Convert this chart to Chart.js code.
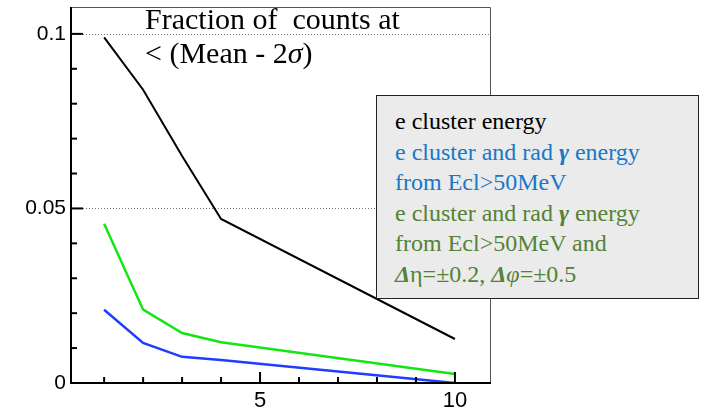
<!DOCTYPE html>
<html>
<head>
<meta charset="utf-8">
<script src="https://cdn.jsdelivr.net/npm/chart.js@4"></script>
<style>
  html, body { margin: 0; padding: 0; background: #fff; }
  #wrap { position: relative; width: 704px; height: 411px; overflow: hidden; }
  #wrap canvas { position: absolute; left: 0; top: 0; }
  .title { position: absolute; left: 145px; font: 30px "Liberation Serif", "Times New Roman", serif; line-height: 30px; color: #000; white-space: nowrap; }
  #legend {
    position: absolute; left: 376px; top: 95px; width: 323px; height: 204px;
    background: #ebebeb; border: 1.5px solid #222; box-sizing: border-box;
    padding: 10px 0 0 18px;
    font: 24px "Liberation Serif", "Times New Roman", serif; line-height: 30.6px; white-space: nowrap;
  }
  #legend .k { color: #000; }
  #legend .b { color: #1878c8; }
  #legend .g { color: #548235; }
  #legend .bi { font-weight: bold; font-style: italic; }
  #legend .it { font-style: italic; }
</style>
</head>
<body>
<div id="wrap">
  <canvas id="chart" width="704" height="411"></canvas>
  <div class="title" style="top:4px">Fraction of&nbsp; counts at</div>
  <div class="title" style="top:38px">&lt; (Mean - 2<span style="font-style:italic">σ</span>)</div>
  <div id="legend">
    <div class="k">e cluster energy</div>
    <div class="b">e cluster and rad <span class="bi">γ</span> energy</div>
    <div class="b">from Ecl&gt;50MeV</div>
    <div class="g">e cluster and rad <span class="bi">γ</span> energy</div>
    <div class="g">from Ecl&gt;50MeV and</div>
    <div class="g"><span class="bi">Δ</span>η=±0.2, <span class="bi">Δ</span><span class="it">φ</span>=±0.5</div>
  </div>
</div>
<script>
// x positions of the points
const xValues = [1, 2, 3, 4, 10];
// fraction of counts below (mean - 2 sigma)
const clusterOnly = [0.099, 0.084, 0.065, 0.047, 0.0126];
const clusterRad = [0.021, 0.0115, 0.0075, 0.0066, 0.0];
const clusterRadWindow = [0.0456, 0.021, 0.0143, 0.0117, 0.0026];

const xMajor = [5, 10];
const xMinor = [1, 2, 3, 4, 6, 7, 8, 9];
const yMajor = [0, 0.05, 0.1];
const yMajorLabels = ['0', '0.05', '0.1'];
const yMinor = [0.01, 0.02, 0.03, 0.04, 0.06, 0.07, 0.08, 0.09];

const toPts = ys => xValues.map((x, i) => ({ x, y: ys[i] }));

// frame, inner ticks and dotted grid, drawn ROOT style
const framePlugin = {
  id: 'frame',
  beforeDatasetsDraw(chart) {
    const { ctx, chartArea: a, scales: { y } } = chart;
    ctx.save();
    ctx.strokeStyle = '#777';
    ctx.lineWidth = 1;
    ctx.setLineDash([1, 2]);
    [0.05, 0.1].forEach(v => {
      const py = Math.round(y.getPixelForValue(v)) + 0.5;
      ctx.beginPath(); ctx.moveTo(a.left, py); ctx.lineTo(a.right, py); ctx.stroke();
    });
    ctx.restore();
  },
  afterDatasetsDraw(chart) {
    const { ctx, chartArea: a, scales: { x, y } } = chart;
    ctx.save();
    // top / right frame
    ctx.strokeStyle = '#555';
    ctx.lineWidth = 1;
    ctx.beginPath();
    ctx.moveTo(a.left, a.top + 0.5); ctx.lineTo(a.right + 0.5, a.top + 0.5); ctx.lineTo(a.right + 0.5, a.bottom);
    ctx.stroke();
    // axes
    ctx.strokeStyle = '#000';
    ctx.lineWidth = 2;
    ctx.beginPath();
    ctx.moveTo(a.left, a.top); ctx.lineTo(a.left, a.bottom); ctx.lineTo(a.right + 1, a.bottom);
    ctx.stroke();
    // ticks
    const tick = (px, py, dx, dy) => { ctx.beginPath(); ctx.moveTo(px, py); ctx.lineTo(px + dx, py + dy); ctx.stroke(); };
    yMajor.forEach(v => tick(a.left, y.getPixelForValue(v), 12, 0));
    yMinor.forEach(v => tick(a.left, y.getPixelForValue(v), 6, 0));
    xMajor.forEach(v => tick(x.getPixelForValue(v), a.bottom, 0, -11));
    xMinor.forEach(v => tick(x.getPixelForValue(v), a.bottom, 0, -6));
    ctx.restore();
  }
};

new Chart(document.getElementById('chart'), {
  type: 'line',
  data: {
    datasets: [
      { data: toPts(clusterOnly), borderColor: '#000', borderWidth: 2 },
      { data: toPts(clusterRadWindow), borderColor: '#14e614', borderWidth: 2.5 },
      { data: toPts(clusterRad), borderColor: '#1f3cff', borderWidth: 2.5 }
    ]
  },
  options: {
    responsive: false,
    animation: false,
    layout: { padding: { top: 7, right: 214, left: 0, bottom: 0 } },
    elements: { point: { radius: 0 }, line: { tension: 0 } },
    plugins: { legend: { display: false }, tooltip: { enabled: false } },
    scales: {
      x: {
        type: 'linear', min: 0.15, max: 10.9,
        afterBuildTicks: s => { s.ticks = xMajor.map(v => ({ value: v })); },
        afterFit: s => { s.height = 28; s.paddingLeft = 0; s.paddingRight = 0; },
        grid: { display: false, drawTicks: false },
        border: { display: false },
        ticks: { color: '#000', padding: 5, font: { family: 'Liberation Sans', size: 22 }, callback: v => String(v) }
      },
      y: {
        min: 0, max: 0.1077,
        afterBuildTicks: s => { s.ticks = yMajor.map(v => ({ value: v })); },
        afterFit: s => { s.width = 71; s.paddingTop = 0; s.paddingBottom = 0; },
        grid: { display: false, drawTicks: false },
        border: { display: false },
        ticks: { color: '#000', padding: 5, font: { family: 'Liberation Sans', size: 21 },
          callback: (v, i) => yMajorLabels[i] }
      }
    }
  },
  plugins: [framePlugin]
});
</script>
</body>
</html>
